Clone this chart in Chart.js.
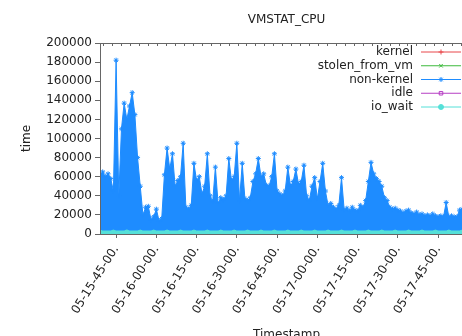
<!DOCTYPE html>
<html><head><meta charset="utf-8">
<script src="https://cdn.jsdelivr.net/npm/chart.js@4/dist/chart.umd.min.js"></script>
<style>
html,body{margin:0;padding:0;background:#fff;overflow:hidden;width:462px;height:336px;}
#wrap{position:absolute;left:0;top:0;width:573px;height:345px;}
</style></head><body>
<div id="wrap"><canvas id="c" width="573" height="345" style="width:573px;height:345px"></canvas></div>
<script>
const chartTitle = 'VMSTAT_CPU';
const xTitle = 'Timestamp';
const yTitle = 'time';
const seriesNames = ['kernel', 'stolen_from_vm', 'non-kernel', 'idle', 'io_wait'];
// minutes since 05-15-00-00
const xTickMinutes = [45, 60, 75, 90, 105, 120, 135, 150, 165];
const xTickLabels = ['05-15-45-00.', '05-16-00-00.', '05-16-15-00.', '05-16-30-00.', '05-16-45-00.',
  '05-17-00-00.', '05-17-15-00.', '05-17-30-00.', '05-17-45-00.'];
const yTickValues = [0, 20000, 40000, 60000, 80000, 100000, 120000, 140000, 160000, 180000, 200000];

// non-kernel: one sample per minute starting at minute 39
const nkStartMinute = 39;
const nkStepMinute = 1;
const nonKernel = [
  62000, 65000, 60000, 63000, 58000, 45000, 182000, 40000, 110000, 137000,
  120000, 134000, 148000, 125000, 80000, 50000, 20000, 28000, 29000, 15000,
  18000, 26000, 14000, 16000, 62000, 90000, 68000, 84000, 50000, 56000,
  60000, 95000, 28000, 26000, 30000, 74000, 56000, 60000, 42000, 50000,
  84000, 40000, 34000, 70000, 32000, 38000, 36000, 40000, 79000, 56000,
  60000, 95000, 35000, 74000, 37000, 35000, 38000, 55000, 63000, 79000,
  60000, 63000, 51000, 50000, 60000, 84000, 45000, 42000, 40000, 45000,
  70000, 50000, 55000, 68000, 52000, 55000, 72000, 40000, 35000, 50000,
  59000, 37000, 55000, 74000, 45000, 30000, 32000, 28000, 26000, 30000,
  59000, 25000, 27000, 24000, 28000, 25000, 24000, 30000, 28000, 35000,
  55000, 75000, 63000, 58000, 55000, 50000, 38000, 35000, 28000, 26000,
  27000, 25000, 24000, 22000, 24000, 25000, 22000, 21000, 23000, 20000,
  21000, 19000, 20000, 19000, 21000, 19000, 18000, 19000, 18000, 33000,
  18000, 19000, 18000, 18000, 25000, 26000, 25000, 26000, 25000, 26000
];

// the small series, sampled every 5 minutes
const lowTimes = [39, 44, 49, 54, 59, 64, 69, 74, 79, 84, 89, 94, 99, 104, 109, 114, 119, 124, 129, 134, 139, 144, 149, 154, 159, 164, 169, 174, 178];
const kernel = [3000, 3200, 3500, 3100, 2800, 3000, 3100, 2900, 3000, 3200, 3000, 2900, 3100, 3000, 3000, 2900, 3000, 2800, 2700, 2800, 2900, 2700, 2600, 2600, 2500, 2600, 2500, 2500, 2600];
const stolenFromVm = [0, 0, 0, 0, 0, 0, 0, 0, 0, 0, 0, 0, 0, 0, 0, 0, 0, 0, 0, 0, 0, 0, 0, 0, 0, 0, 0, 0, 0];
const idle = [300, 300, 300, 300, 300, 300, 300, 300, 300, 300, 300, 300, 300, 300, 300, 300, 300, 300, 300, 300, 300, 300, 300, 300, 300, 300, 300, 300, 300];
const ioWait = [1500, 1500, 1600, 1500, 1500, 1500, 1500, 1500, 1500, 1500, 1500, 1500, 1500, 1500, 1500, 1500, 1500, 1500, 1500, 1500, 1500, 1500, 1500, 1500, 1500, 1500, 1500, 1500, 1500];

const colors = {
  kernel: '#e8474a',
  stolen: '#3dba3d',
  nonKernel: '#1e8cff',
  idle: '#b63fc4',
  ioWait: '#55e0d8'
};

const nkPoints = nonKernel.map((v, i) => ({ x: nkStartMinute + i * nkStepMinute, y: v }));
const pairs = (arr) => arr.map((v, i) => ({ x: lowTimes[i], y: v }));

Chart.defaults.font.family = '"DejaVu Sans", sans-serif';
Chart.defaults.font.size = 12;
Chart.defaults.color = '#222';

function drawMarker(ctx, style, x, y, r, stroke, fill) {
  ctx.save();
  ctx.strokeStyle = stroke; ctx.fillStyle = fill; ctx.lineWidth = 1;
  if (Chart.helpers && Chart.helpers.drawPoint) {
    Chart.helpers.drawPoint(ctx, { pointStyle: style, radius: r, rotation: 0, borderWidth: 1 }, x, y);
  }
  ctx.restore();
}

const gpLegend = {
  id: 'gpLegend',
  afterDraw(chart) {
    const ctx = chart.ctx;
    const a = chart.chartArea;
    const textRight = a.right - 60;
    const lineL = a.right - 52, lineR = a.right - 12, mid = a.right - 32;
    ctx.save();
    ctx.font = '12px "DejaVu Sans"';
    ctx.textAlign = 'right';
    ctx.textBaseline = 'middle';
    chart.data.datasets.forEach((d, i) => {
      const y = a.top + 9 + i * 13.75;
      ctx.fillStyle = '#222';
      ctx.fillText(d.label, textRight, y);
      ctx.strokeStyle = d.borderColor;
      ctx.lineWidth = 1;
      ctx.beginPath(); ctx.moveTo(lineL, y); ctx.lineTo(lineR, y); ctx.stroke();
      drawMarker(ctx, d.pointStyle, mid, y, 2.5, d.pointBorderColor || d.borderColor, d.pointBackgroundColor || d.borderColor);
    });
    ctx.restore();
  }
};

const gpFrame = {
  id: 'gpFrame',
  afterDatasetsDraw(chart) {
    const ctx = chart.ctx;
    const a = chart.chartArea;
    const xs = chart.scales.x;
    ctx.save();
    ctx.strokeStyle = '#666';
    ctx.lineWidth = 1;
    ctx.beginPath();
    ctx.moveTo(a.left + 0.5, a.bottom + 0.5);
    ctx.lineTo(a.left + 0.5, a.top + 0.5);
    ctx.lineTo(a.right + 0.5, a.top + 0.5);
    ctx.stroke();
    // small inward ticks along the top border
    ctx.beginPath();
    for (let m = 40.25; m <= xs.max; m += 10 / 3) {
      const px = Math.round(xs.getPixelForValue(m)) + 0.5;
      ctx.moveTo(px, a.top);
      ctx.lineTo(px, a.top + 3);
    }
    ctx.stroke();
    ctx.restore();
  }
};

new Chart(document.getElementById('c'), {
  type: 'line',
  data: {
    datasets: [
      { label: seriesNames[0], data: pairs(kernel), borderColor: colors.kernel, backgroundColor: colors.kernel,
        borderWidth: 1, pointStyle: 'cross', pointRadius: 2.5, pointBorderWidth: 1, order: 5, fill: false },
      { label: seriesNames[1], data: pairs(stolenFromVm), borderColor: colors.stolen, backgroundColor: colors.stolen,
        borderWidth: 1, pointStyle: 'crossRot', pointRadius: 2.5, pointBorderWidth: 1, order: 4, fill: false },
      { label: seriesNames[2], data: nkPoints, borderColor: colors.nonKernel, backgroundColor: colors.nonKernel,
        borderWidth: 1, pointStyle: 'star', pointRadius: 2.5, pointBorderWidth: 1, order: 3, fill: 'origin' },
      { label: seriesNames[3], data: pairs(idle), borderColor: colors.idle, backgroundColor: 'rgba(255,255,255,0)',
        pointBackgroundColor: 'rgba(255,255,255,0)', borderWidth: 1, pointStyle: 'rect', pointRadius: 2.5, pointBorderWidth: 1, order: 2, fill: false },
      { label: seriesNames[4], data: pairs(ioWait), borderColor: colors.ioWait, backgroundColor: colors.ioWait,
        borderWidth: 4, pointStyle: 'circle', pointRadius: 2.5, pointBorderWidth: 1, order: 1, fill: false }
    ]
  },
  options: {
    responsive: false,
    animation: false,
    devicePixelRatio: 1,
    layout: { padding: 0 },
    plugins: {
      legend: { display: false },
      tooltip: { enabled: false },
      title: { display: true, text: chartTitle, color: '#222', font: { size: 12, weight: 'normal' },
        padding: { top: 13, bottom: 15.6 } }
    },
    scales: {
      x: {
        type: 'linear', min: 39, max: 178,
        afterBuildTicks: (s) => { s.ticks = xTickMinutes.map(v => ({ value: v })); },
        afterFit: (s) => { s.height = 111; },
        grid: { drawOnChartArea: false, tickLength: 4, color: '#666' },
        border: { display: true, color: '#666' },
        ticks: { autoSkip: false, minRotation: 58, maxRotation: 58, padding: 5, color: '#222',
          callback: (v) => { const i = xTickMinutes.indexOf(v); return i >= 0 ? xTickLabels[i] : ''; } },
        title: { display: true, text: xTitle, color: '#222', font: { size: 12 }, padding: { top: 0, bottom: 3 } }
      },
      y: {
        position: 'left',
        min: 0, max: 200000,
        afterBuildTicks: (s) => { s.ticks = yTickValues.map(v => ({ value: v })); },
        afterFit: (s) => { s.width = 100; },
        grid: { drawOnChartArea: false, tickLength: 5, color: '#666' },
        border: { display: true, color: '#666' },
        ticks: { padding: 3, color: '#222', callback: (v) => String(v) },
        title: { display: true, text: yTitle, color: '#222', font: { size: 12 }, padding: { top: 20, bottom: 0 } }
      },
      yRight: {
        position: 'right',
        min: 0, max: 200000,
        afterFit: (s) => { s.width = 100; },
        grid: { display: false, drawOnChartArea: false },
        border: { display: false },
        ticks: { display: false }
      }
    }
  },
  plugins: [gpFrame, gpLegend]
});
</script>
</body></html>
